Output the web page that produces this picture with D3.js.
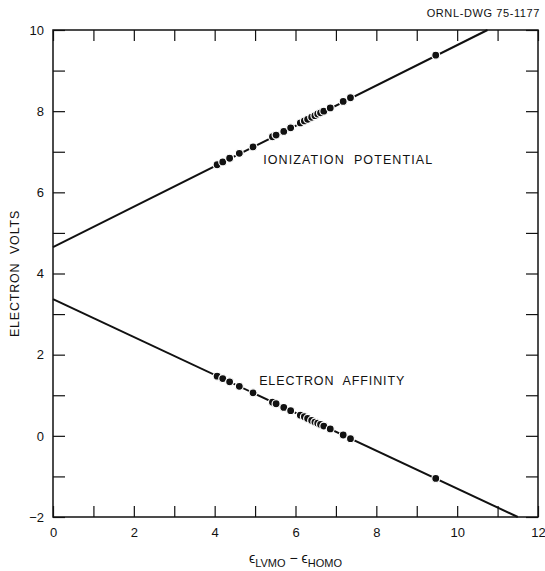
<!DOCTYPE html>
<html>
<head>
<meta charset="utf-8">
<script src="https://cdn.jsdelivr.net/npm/d3@7"></script>
<style>
  body { margin: 0; background: #fff; }
  svg { font-family: "Liberation Sans", Arial, sans-serif; }
  svg text { white-space: pre; }
  .axis path { display: none; }
  .axis line { stroke: #111; stroke-width: 1.2; }
  .axis text { font-size: 13px; fill: #111; }
</style>
</head>
<body>
<div id="chart"></div>
<script>
// energy gap (eV) for each molecule
var gaps = [4.06, 4.2, 4.37, 4.61, 4.95, 5.43, 5.52, 5.71, 5.88, 6.12, 6.22, 6.3, 6.4,
            6.48, 6.55, 6.62, 6.7, 6.86, 7.18, 7.36, 9.47]
var ionization = [6.68, 6.75, 6.84, 6.96, 7.12, 7.37, 7.41, 7.5, 7.59, 7.71, 7.76, 7.8, 7.85,
                  7.89, 7.93, 7.96, 8.0, 8.08, 8.24, 8.33, 9.38]
var affinity = [1.47, 1.41, 1.33, 1.22, 1.06, 0.83, 0.79, 0.7, 0.62, 0.51, 0.47, 0.43, 0.38,
                0.34, 0.31, 0.28, 0.24, 0.17, 0.02, -0.07, -1.05]
// fitted straight lines, end points
var ipFit = [[0, 4.65], [10.75, 10]]
var eaFit = [[0, 3.37], [11.5, -2]]
var xTicks = d3.range(0, 13)
var yTicks = d3.range(-2, 11)

var width = 545, height = 571
var margin = {top: 30, right: 7, bottom: 54, left: 53}
var w = width - margin.left - margin.right
var h = height - margin.top - margin.bottom

var svg = d3.select("#chart").append("svg")
  .attr("width", width)
  .attr("height", height)

var g = svg.append("g")
  .attr("transform", "translate(" + margin.left + "," + margin.top + ")")

var x = d3.scaleLinear().domain([0, 12]).range([0, w])
var y = d3.scaleLinear().domain([-2, 10]).range([h, 0])

var evenOnly = function(d) { return d % 2 === 0 ? d3.format("")(d) : "" }

g.append("g").attr("class", "axis")
  .attr("transform", "translate(0," + h + ")")
  .call(d3.axisBottom(x).tickValues(xTicks).tickSize(-11).tickPadding(8).tickFormat(evenOnly))
  .selectAll("text").attr("dy", "0.9em")

g.append("g").attr("class", "axis")
  .call(d3.axisTop(x).tickValues(xTicks).tickSize(-11).tickFormat(""))

g.append("g").attr("class", "axis")
  .call(d3.axisLeft(y).tickValues(yTicks).tickSize(-12).tickPadding(9).tickFormat(evenOnly))

g.append("g").attr("class", "axis")
  .attr("transform", "translate(" + w + ",0)")
  .call(d3.axisRight(y).tickValues(yTicks).tickSize(-12).tickFormat(""))

// frame
g.append("rect")
  .attr("width", w)
  .attr("height", h)
  .attr("fill", "none")
  .attr("stroke", "#111")
  .attr("stroke-width", 1.5)

var line = d3.line().x(function(d) { return x(d[0]) }).y(function(d) { return y(d[1]) })

;[ipFit, eaFit].forEach(function(fit) {
  g.append("path")
    .attr("d", line(fit))
    .attr("fill", "none")
    .attr("stroke", "#111")
    .attr("stroke-width", 2)
})

;[ionization, affinity].forEach(function(vals) {
  g.selectAll(null)
    .data(gaps.map(function(gp, i) { return [gp, vals[i]] }))
    .enter().append("circle")
    .attr("cx", function(d) { return x(d[0]) })
    .attr("cy", function(d) { return y(d[1]) })
    .attr("r", 4)
    .attr("fill", "#111")
    .attr("stroke", "#fff")
    .attr("stroke-width", 1.2)
})

g.append("text")
  .attr("x", x(5.2)).attr("y", y(6.7))
  .attr("font-size", 12.5).attr("letter-spacing", 1.1)
  .attr("fill", "#111")
  .text("IONIZATION  POTENTIAL")

g.append("text")
  .attr("x", x(5.1)).attr("y", y(1.25))
  .attr("font-size", 12.5).attr("letter-spacing", 0.9)
  .attr("fill", "#111")
  .text("ELECTRON  AFFINITY")

svg.append("text")
  .attr("x", 540).attr("y", 17)
  .attr("text-anchor", "end")
  .attr("font-size", 11).attr("letter-spacing", 0.6)
  .attr("fill", "#111")
  .text("ORNL-DWG 75-1177")

svg.append("text")
  .attr("transform", "translate(19," + (margin.top + y(4)) + ") rotate(-90)")
  .attr("text-anchor", "middle")
  .attr("font-size", 12.5).attr("letter-spacing", 0.8)
  .attr("fill", "#111")
  .text("ELECTRON  VOLTS")

var xt = svg.append("text")
  .attr("x", margin.left + x(6))
  .attr("y", 563)
  .attr("text-anchor", "middle")
  .attr("font-size", 14)
  .attr("fill", "#111")
xt.append("tspan").text("\u03f5")
xt.append("tspan").attr("dy", 4).attr("font-size", 11).text("LVMO")
xt.append("tspan").attr("dy", -4).text(" \u2212 \u03f5")
xt.append("tspan").attr("dy", 4).attr("font-size", 11).text("HOMO")
</script>
</body>
</html>
